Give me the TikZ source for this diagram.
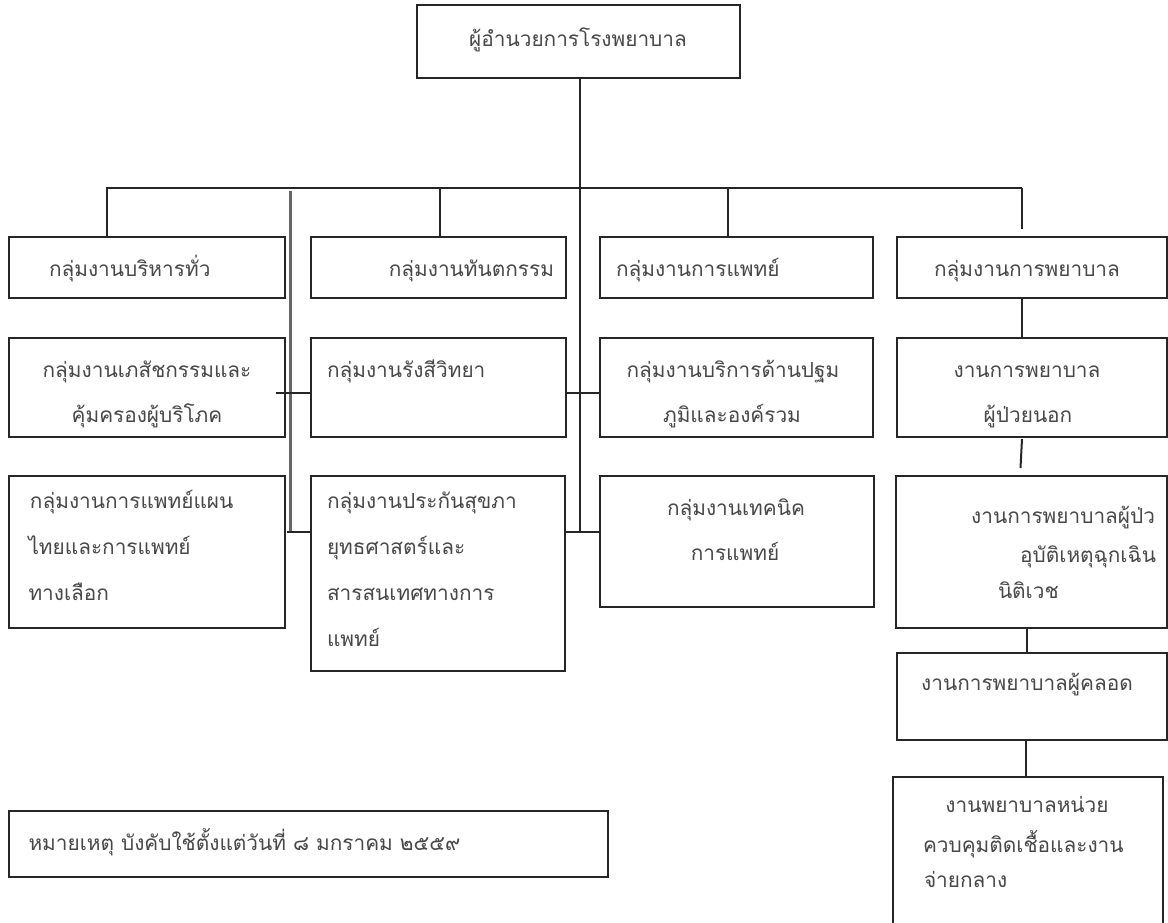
\documentclass[tikz,border=0pt]{standalone}
\usepackage{fontspec}
\newfontfamily\thaifont[Script=Thai]{Loma}
\begin{document}
\begin{tikzpicture}[x=1pt,y=-1pt,
  box/.style={draw=black!85, line width=2pt, inner sep=0pt, outer sep=0pt, anchor=north west},
  txt/.style={font=\thaifont\fontsize{20.8}{25}\selectfont, text=black!72, inner sep=0pt, outer sep=0pt},
  conn/.style={draw=black!85, line width=2pt},
  grayconn/.style={draw=black!60, line width=3pt}]
\useasboundingbox (0,0) rectangle (1168,923);
\fill[white] (0,0) rectangle (1168,923);
% boxes
\node[box, minimum width=323pt, minimum height=73pt] (top) at (417,5) {};
\node[box, minimum width=276pt, minimum height=61pt] (r1a) at (9,237) {};
\node[box, minimum width=255pt, minimum height=61pt] (r1b) at (311,237) {};
\node[box, minimum width=273pt, minimum height=61pt] (r1c) at (600,237) {};
\node[box, minimum width=270pt, minimum height=61pt] (r1d) at (897,237) {};
\node[box, minimum width=276pt, minimum height=99pt] (r2a) at (9,338) {};
\node[box, minimum width=255pt, minimum height=99pt] (r2b) at (311,338) {};
\node[box, minimum width=273pt, minimum height=99pt] (r2c) at (600,338) {};
\node[box, minimum width=270pt, minimum height=99pt] (r2d) at (897,338) {};
\node[box, minimum width=276pt, minimum height=152pt] (r3a) at (9,476) {};
\node[box, minimum width=254pt, minimum height=195pt] (r3b) at (311,476) {};
\node[box, minimum width=274pt, minimum height=131pt] (r3c) at (600,476) {};
\node[box, minimum width=271pt, minimum height=152pt] (r3d) at (896,476) {};
\node[box, minimum width=270pt, minimum height=87pt] (r4d) at (897,653) {};
\node[box, minimum width=270pt, minimum height=170pt] (r5d) at (893,777) {};
\node[box, minimum width=599pt, minimum height=66pt] (note) at (9,811) {};
% texts
\node[txt, anchor=base] (ttop) at (578,47) {ผู้อำนวยการโรงพยาบาล};
\node[txt, anchor=base west] (t1a) at (49,276) {กลุ่มงานบริหารทั่ว};
\node[txt, anchor=base east] (t1b) at (554,276) {กลุ่มงานทันตกรรม};
\node[txt, anchor=base west] (t1c) at (616,276) {กลุ่มงานการแพทย์};
\node[txt, anchor=base] (t1d) at (1027,276) {กลุ่มงานการพยาบาล};
\node[txt, anchor=base] (t2a1) at (147,377) {กลุ่มงานเภสัชกรรมและ};
\node[txt, anchor=base] (t2a2) at (147,422) {คุ้มครองผู้บริโภค};
\node[txt, anchor=base west] (t2b) at (327,377) {กลุ่มงานรังสีวิทยา};
\node[txt, anchor=base] (t2c1) at (733,377) {กลุ่มงานบริการด้านปฐม};
\node[txt, anchor=base] (t2c2) at (732,422) {ภูมิและองค์รวม};
\node[txt, anchor=base] (t2d1) at (1027,377) {งานการพยาบาล};
\node[txt, anchor=base] (t2d2) at (1028,422) {ผู้ป่วยนอก};
\node[txt, anchor=base west] (t3a1) at (30,508) {กลุ่มงานการแพทย์แผน};
\node[txt, anchor=base west] (t3a2) at (28.5,554) {ไทยและการแพทย์};
\node[txt, anchor=base west] (t3a3) at (28.5,600) {ทางเลือก};
\node[txt, anchor=base west] (t3b1) at (327,508) {กลุ่มงานประกันสุขภา};
\node[txt, anchor=base west] (t3b2) at (327,554) {ยุทธศาสตร์และ};
\node[txt, anchor=base west] (t3b3) at (327,600) {สารสนเทศทางการ};
\node[txt, anchor=base west] (t3b4) at (327,646) {แพทย์};
\node[txt, anchor=base] (t3c1) at (736,515) {กลุ่มงานเทคนิค};
\node[txt, anchor=base] (t3c2) at (735,560) {การแพทย์};
\node[txt, anchor=base east] (t3d1) at (1155,523) {งานการพยาบาลผู้ป่ว};
\node[txt, anchor=base east] (t3d2) at (1156,562) {อุบัติเหตุฉุกเฉิน};
\node[txt, anchor=base west] (t3d3) at (998,598) {นิติเวช};
\node[txt, anchor=base] (t4d) at (1027,690) {งานการพยาบาลผู้คลอด};
\node[txt, anchor=base] (t5d1) at (1027,812) {งานพยาบาลหน่วย};
\node[txt, anchor=base west] (t5d2) at (923,852) {ควบคุมติดเชื้อและงาน};
\node[txt, anchor=base west] (t5d3) at (924,887) {จ่ายกลาง};
\node[txt, anchor=base west] (tnote) at (28.5,850) {หมายเหตุ บังคับใช้ตั้งแต่วันที่ ๘ มกราคม ๒๕๕๙};
% connectors
\coordinate (tL) at (106,188);
\coordinate (tR) at (1022,188);
\coordinate (trunkEnd) at (580,532);
\coordinate (d1) at (107,188);
\coordinate (d2) at (440,188);
\coordinate (d3) at (727.5,188);
\coordinate (d4) at (1022,229);
\coordinate (g1) at (290,191);
\coordinate (g2) at (290,532);
\coordinate (h2) at (276,393);
\coordinate (h3) at (287,532);
\coordinate (s1) at (1022,439);
\coordinate (s2) at (1020.5,468);
\coordinate (c4) at (1027,628);
\coordinate (c5) at (1026,740);
\draw[conn] (tL) -- (tR);
\draw[conn] (top.south -| trunkEnd) -- (trunkEnd);
\draw[conn] (d1) -- (d1 |- r1a.north);
\draw[conn] (d2) -- (d2 |- r1b.north);
\draw[conn] (d3) -- (d3 |- r1c.north);
\draw[conn] (tR) -- (d4);
\draw[grayconn] (g1) -- (g2);
\draw[conn] (h2) -- (h2 -| r2b.west);
\draw[conn] (h2 -| r2b.east) -- (h2 -| r2c.west);
\draw[conn] (h3) -- (h3 -| r3b.west);
\draw[conn] (h3 -| r3b.east) -- (h3 -| r3c.west);
\draw[conn] (r1d.south -| tR) -- (r2d.north -| tR);
\draw[conn] (s1) -- (s2);
\draw[conn] (r3d.south -| c4) -- (r4d.north -| c4);
\draw[conn] (r4d.south -| c5) -- (r5d.north -| c5);
\end{tikzpicture}
\end{document}
